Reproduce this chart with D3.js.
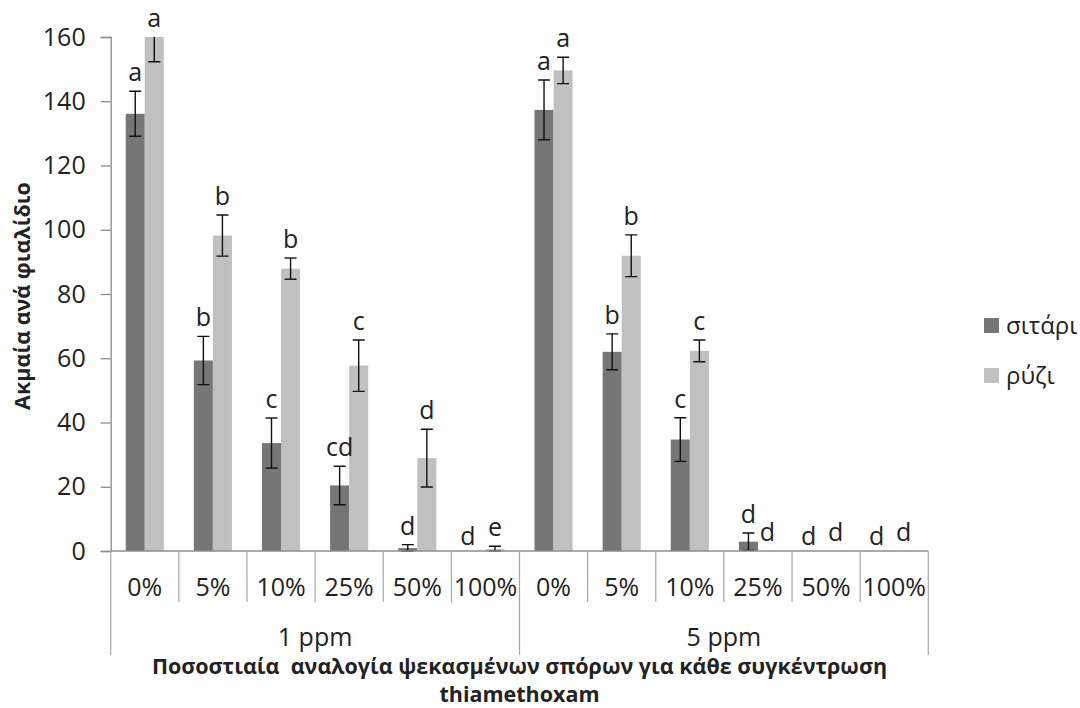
<!DOCTYPE html>
<html>
<head>
<meta charset="utf-8">
<script src="https://cdn.jsdelivr.net/npm/d3@7"></script>
<style>
  body { margin: 0; background: #fff; }
  text { font-family: "Open Sans", sans-serif; fill: #222; }
</style>
</head>
<body>
<div id="chart"></div>
<script>
const FRAME_WIDTH = 1080;
const FRAME_HEIGHT = 708;
const MARGINS = {left: 110.7, right: 151.7, top: 37, bottom: 157};

const VIS_WIDTH = FRAME_WIDTH - MARGINS.left - MARGINS.right;
const VIS_HEIGHT = FRAME_HEIGHT - MARGINS.top - MARGINS.bottom;

// data
const groups = ["1 ppm", "5 ppm"];
const percents = ["0%", "5%", "10%", "25%", "50%", "100%"];
const seriesNames = ["σιτάρι", "ρύζι"];
const seriesColors = ["#767676", "#c0c0c0"];

const wheat1 = [136.1, 59.3, 33.6, 20.4, 0.9, 0];
const wheat1Err = [7.0, 7.5, 7.8, 6.0, 1.1, 0];
const wheat1Letters = ["a", "b", "c", "cd", "d", "d"];
const rice1 = [160, 98.2, 87.9, 57.7, 28.9, 0.6];
const rice1Err = [7.7, 6.4, 3.3, 8.0, 9.0, 0.9];
const rice1Letters = ["a", "b", "b", "c", "d", "e"];

const wheat5 = [137.3, 62.0, 34.7, 2.9, 0, 0];
const wheat5Err = [9.3, 5.6, 6.8, 2.7, 0, 0];
const wheat5Letters = ["a", "b", "c", "d", "d", "d"];
const rice5 = [149.6, 91.9, 62.3, 0, 0, 0];
const rice5Err = [4.1, 6.5, 3.4, 0, 0, 0];
const rice5Letters = ["a", "b", "c", "d", "d", "d"];

const yTicks = [0, 20, 40, 60, 80, 100, 120, 140, 160];

// build rows
const rows = [];
groups.forEach((g, gi) => {
    percents.forEach((p, pi) => {
        const w = gi === 0 ? wheat1 : wheat5;
        const we = gi === 0 ? wheat1Err : wheat5Err;
        const wl = gi === 0 ? wheat1Letters : wheat5Letters;
        const r = gi === 0 ? rice1 : rice5;
        const re = gi === 0 ? rice1Err : rice5Err;
        const rl = gi === 0 ? rice1Letters : rice5Letters;
        rows.push({
            key: g + "|" + p, group: g, pct: p,
            vals: [
                {s: 0, v: w[pi], e: we[pi], l: wl[pi]},
                {s: 1, v: r[pi], e: re[pi], l: rl[pi]}
            ]
        });
    });
});

const FRAME = d3.select("#chart")
    .append("svg")
    .attr("width", FRAME_WIDTH)
    .attr("height", FRAME_HEIGHT);

const X_SCALE = d3.scaleBand()
    .domain(rows.map(d => d.key))
    .range([0, VIS_WIDTH]);
const X_INNER = d3.scaleBand()
    .domain([0, 1])
    .range([15, X_SCALE.bandwidth() - 15]);
const Y_SCALE = d3.scaleLinear()
    .domain([0, 160])
    .range([VIS_HEIGHT, 0]);

const G = FRAME.append("g")
    .attr("transform", "translate(" + MARGINS.left + "," + MARGINS.top + ")");

G.append("defs").append("clipPath").attr("id", "plotclip")
    .append("rect")
    .attr("x", -5).attr("y", 0)
    .attr("width", VIS_WIDTH + 10).attr("height", VIS_HEIGHT + 1);

// y axis
const yAxis = G.append("g")
    .call(d3.axisLeft(Y_SCALE).tickValues(yTicks).tickSize(10).tickPadding(15));
yAxis.select(".domain").attr("stroke", "#8c8c8c").attr("stroke-width", 1.3);
yAxis.selectAll(".tick line").attr("stroke", "#8c8c8c").attr("stroke-width", 1.3);
yAxis.selectAll(".tick text")
    .attr("font-size", 25)
    .attr("font-family", "'Open Sans', sans-serif")
    .attr("fill", "#222");

// bars
const cats = G.selectAll(".cat")
    .data(rows)
    .enter()
    .append("g")
    .attr("transform", d => "translate(" + X_SCALE(d.key) + ",0)");

const plot = cats.append("g").attr("clip-path", "url(#plotclip)");

plot.selectAll("rect")
    .data(d => d.vals)
    .enter()
    .append("rect")
    .attr("x", d => X_INNER(d.s))
    .attr("width", X_INNER.bandwidth())
    .attr("y", d => Y_SCALE(d.v))
    .attr("height", d => VIS_HEIGHT - Y_SCALE(d.v))
    .attr("fill", d => seriesColors[d.s]);

// error bars
const errs = plot.selectAll(".err")
    .data(d => d.vals.filter(v => v.e > 0))
    .enter()
    .append("g")
    .attr("stroke", "#111")
    .attr("stroke-width", 1.4);
errs.append("line")
    .attr("x1", d => X_INNER(d.s) + X_INNER.bandwidth() / 2)
    .attr("x2", d => X_INNER(d.s) + X_INNER.bandwidth() / 2)
    .attr("y1", d => Y_SCALE(d.v + d.e))
    .attr("y2", d => Y_SCALE(Math.max(0, d.v - d.e)));
[1, -1].forEach(sign => {
    errs.append("line")
        .attr("x1", d => X_INNER(d.s) + X_INNER.bandwidth() / 2 - 6)
        .attr("x2", d => X_INNER(d.s) + X_INNER.bandwidth() / 2 + 6)
        .attr("y1", d => Y_SCALE(Math.max(0, d.v + sign * d.e)))
        .attr("y2", d => Y_SCALE(Math.max(0, d.v + sign * d.e)));
});

// letters (zero bars: wheat label sits a bit left and lower, like the original)
cats.selectAll(".lbl")
    .data(d => d.vals)
    .enter()
    .append("text")
    .attr("x", d => X_INNER(d.s) + X_INNER.bandwidth() / 2 + ((d.v === 0 && d.s === 0) ? -8 : 0))
    .attr("y", d => Y_SCALE(Math.min(160, d.v + d.e)) - ((d.v === 0 && d.s === 0) ? 6 : 10))
    .attr("text-anchor", "middle")
    .attr("font-size", 25)
    .text(d => d.l);

// x axis baseline and dividers
const AXIS_COLOR = "#a6a6a6";
G.append("line")
    .attr("x1", 0).attr("x2", VIS_WIDTH)
    .attr("y1", VIS_HEIGHT).attr("y2", VIS_HEIGHT)
    .attr("stroke", "#8c8c8c").attr("stroke-width", 1.3);

const edges = rows.map(d => X_SCALE(d.key)).concat([VIS_WIDTH]);
G.selectAll(".div")
    .data(edges)
    .enter()
    .append("line")
    .attr("x1", d => d).attr("x2", d => d)
    .attr("y1", VIS_HEIGHT)
    .attr("y2", (d, i) => (i % 6 === 0) ? VIS_HEIGHT + 104 : VIS_HEIGHT + 51)
    .attr("stroke", AXIS_COLOR).attr("stroke-width", 1.2);

// category labels
G.selectAll(".pct")
    .data(rows)
    .enter()
    .append("text")
    .attr("x", d => X_SCALE(d.key) + X_SCALE.bandwidth() / 2)
    .attr("y", VIS_HEIGHT + 45)
    .attr("text-anchor", "middle")
    .attr("font-size", 25)
    .text(d => d.pct);

// group labels
G.selectAll(".grp")
    .data(groups)
    .enter()
    .append("text")
    .attr("x", (d, i) => (X_SCALE(d + "|" + percents[0]) + X_SCALE(d + "|" + percents[5]) + X_SCALE.bandwidth()) / 2)
    .attr("y", VIS_HEIGHT + 95)
    .attr("text-anchor", "middle")
    .attr("font-size", 25)
    .text(d => d);

// axis titles
FRAME.append("text")
    .attr("transform", "translate(30," + (MARGINS.top + VIS_HEIGHT / 2 + 2) + ") rotate(-90)")
    .attr("text-anchor", "middle")
    .attr("font-size", 21.5)
    .attr("font-weight", "bold")
    .text("Ακμαία ανά φιαλίδιο");

FRAME.append("text")
    .attr("x", MARGINS.left + VIS_WIDTH / 2)
    .attr("y", 674)
    .attr("text-anchor", "middle")
    .attr("font-size", 21.5)
    .attr("font-weight", "bold")
    .attr("xml:space", "preserve")
    .style("white-space", "pre")
    .text("Ποσοστιαία  αναλογία ψεκασμένων σπόρων για κάθε συγκέντρωση");

FRAME.append("text")
    .attr("x", MARGINS.left + VIS_WIDTH / 2)
    .attr("y", 702)
    .attr("text-anchor", "middle")
    .attr("font-size", 21.5)
    .attr("font-weight", "bold")
    .text("thiamethoxam");

// legend
const legend = FRAME.append("g").attr("transform", "translate(984,318)");
const items = legend.selectAll(".item")
    .data(seriesNames)
    .enter()
    .append("g")
    .attr("transform", (d, i) => "translate(0," + (i * 50) + ")");
items.append("rect")
    .attr("width", 15).attr("height", 15)
    .attr("fill", (d, i) => seriesColors[i]);
items.append("text")
    .attr("x", 22).attr("y", 16)
    .attr("font-size", 24)
    .text(d => d);
</script>
</body>
</html>
